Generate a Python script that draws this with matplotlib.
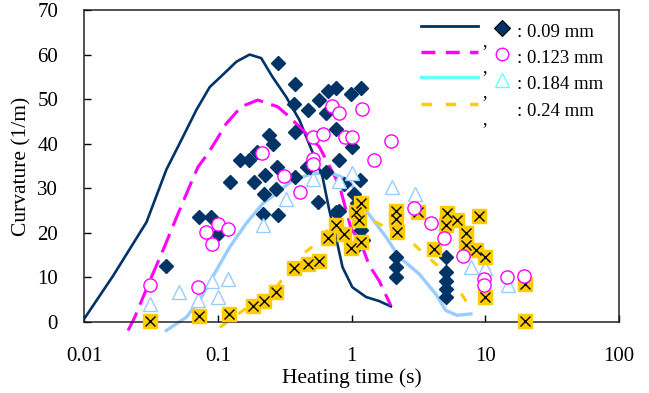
import matplotlib
matplotlib.use('Agg')
import matplotlib.pyplot as plt

plt.rcParams['font.family'] = ['Liberation Serif', 'DejaVu Serif']

# model curves (heating time s, curvature 1/m)
t09 = [0.0101, 0.0164, 0.0291, 0.041, 0.0516, 0.0688, 0.0865, 0.115, 0.137, 0.172, 0.21, 0.255,
       0.323, 0.406, 0.605, 0.68, 0.762, 0.853, 1.01, 1.28, 1.60, 1.96]
k09 = [1.0, 10.4, 22.4, 34.2, 40.1, 47.6, 52.7, 56.2, 58.4, 60.0, 59.2, 55.0,
       50.5, 45.3, 32.5, 25.0, 19.0, 12.3, 7.8, 5.6, 4.7, 3.5]
t123 = [0.0212, 0.0238, 0.0317, 0.0387, 0.0501, 0.0595, 0.0707, 0.0839, 0.097, 0.115, 0.149,
        0.198, 0.279, 0.342, 0.455, 0.572, 0.807, 0.987, 1.18, 1.35, 1.60, 1.96]
k123 = [-1.9, 1.1, 10.1, 16.1, 24.3, 29.6, 34.8, 37.8, 40.8, 44.5, 48.3,
        49.8, 48.3, 46.0, 42.3, 39.3, 30.7, 21.0, 17.5, 12.7, 9.3, 3.7]
t184 = [0.041, 0.058, 0.075, 0.097, 0.122, 0.162, 0.216, 0.272, 0.361, 0.509, 0.719, 0.957,
        1.28, 1.80, 2.26, 3.19, 4.25, 5.05, 6.12, 7.79]
k184 = [-1.9, 1.1, 5.6, 11.6, 16.8, 22.1, 26.6, 28.8, 31.8, 33.3, 33.3, 31.8,
        25.0, 19.1, 14.6, 10.8, 6.3, 2.6, 1.5, 1.8]
t24 = [0.103, 0.137, 0.279, 0.418, 0.525, 0.88, 1.20, 1.43, 2.68, 3.47, 4.37, 6.34, 7.28]
k24 = [-1.2, 1.5, 8.2, 15.0, 17.2, 25.0, 25.0, 22.8, 18.5, 15.3, 12.7, 7.1, 4.4]

# measured points
d_x = [0.279, 0.378, 0.371, 0.473, 0.565, 0.668, 0.766, 0.987, 1.17, 0.641, 0.766, 0.378, 0.242,
       0.257, 1.01, 0.807, 0.169, 0.122, 0.184, 0.226, 0.275, 0.378, 0.461, 0.641, 1.16, 0.219,
       0.273, 0.216, 0.279, 0.556, 0.88, 1.04, 0.807, 1.10, 1.17, 1.21, 0.0714, 0.0889, 0.0997,
       0.041, 2.14, 2.14, 2.14, 5.05, 5.05, 5.05, 5.05, 5.05, 0.76, 1.07, 0.145, 0.49, 0.197]
d_y = [58.0, 53.5, 49.0, 47.5, 49.8, 51.9, 52.4, 51.1, 52.6, 46.8, 43.4, 42.7, 41.9,
       40.0, 39.3, 36.3, 36.4, 31.4, 31.4, 32.9, 34.8, 32.5, 34.8, 33.7, 31.8, 28.8,
       29.9, 24.3, 23.9, 26.9, 31.0, 28.8, 25.0, 26.6, 20.6, 18.3, 23.6, 23.6, 19.8,
       12.5, 14.6, 12.3, 10.1, 14.6, 11.2, 9.1, 7.3, 5.5, 24.7, 16.8, 36.3, 34.8, 38.1]
c_x = [0.214, 0.509, 0.612, 0.711, 0.807, 1.19, 0.894, 1.0, 1.46, 0.509, 0.509, 0.313, 0.41, 1.96,
       0.0807, 0.0997, 0.118, 0.0906, 0.0308, 0.0707, 2.92, 3.90, 4.9, 6.79, 9.75, 9.75, 14.6, 19.4]
c_y = [37.9, 41.4, 42.1, 48.4, 46.8, 47.8, 41.4, 41.5, 36.4, 36.5, 35.5, 32.7, 29.2, 40.7,
       20.3, 21.9, 20.9, 17.4, 8.4, 7.8, 25.5, 22.2, 18.8, 14.9, 9.7, 8.2, 10.0, 10.3]
tr_x = [0.216, 0.0906, 0.118, 0.051, 0.0997, 0.0308, 0.0707, 0.323, 0.516, 0.807, 1.01, 2.0,
        2.98, 7.76, 10.0, 14.7]
tr_y = [21.7, 9.3, 9.7, 6.7, 5.6, 4.1, 5.0, 27.7, 32.0, 31.6, 33.5, 30.3, 28.7, 12.3, 12.0, 8.4]
s_x = [0.0311, 0.0724, 0.121, 0.183, 0.22, 0.269, 0.372, 0.468, 0.565, 0.659, 0.766, 0.871, 0.987,
       1.17, 1.08, 1.14, 1.17, 2.15, 2.15, 2.19, 3.11, 4.13, 5.19, 5.05, 6.17, 7.11, 7.11, 8.45,
       10.0, 9.02, 10.0, 19.9, 19.9]
s_y = [0.2, 1.3, 1.7, 3.5, 4.7, 6.7, 12.1, 13.1, 13.6, 18.9, 21.7, 19.8, 16.7, 26.6, 24.6, 22.8,
       17.9, 25.0, 23.2, 20.2, 24.7, 16.4, 24.5, 21.7, 22.8, 19.9, 17.2, 16.1, 14.5, 23.8, 5.5,
       0.3, 8.6]

labels = [': 0.09 mm', ': 0.123 mm', ': 0.184 mm', ': 0.24 mm']
navy = '#003366'
mag = '#ff00ff'
lblue = '#99ccff'
cyan = '#66ffff'
gold = '#ffcc00'

fig = plt.figure(figsize=(6.49, 3.93), dpi=100)
ax = fig.add_axes([0.1302, 0.1807, 0.8236, 0.7939])

ax.plot(t09, k09, color=navy, lw=1.9, clip_on=False, zorder=2)
ax.plot(t123, k123, color=mag, lw=2.2, dashes=(6.5, 2.8), clip_on=False, zorder=2)
ax.plot(t184, k184, color=lblue, lw=2.4, clip_on=False, zorder=2)
ax.plot(t24, k24, color=gold, lw=2.2, dashes=(3, 4.5), clip_on=False, zorder=2)

ax.plot(d_x, d_y, 'D', ms=7.5, color=navy, mec=navy, clip_on=False, zorder=3)
ax.plot(tr_x, tr_y, '^', ms=9.5, mfc='white', mec=lblue, mew=1.0, clip_on=False, zorder=4)
ax.plot(s_x, s_y, 's', ms=9.5, mfc=gold, mec=gold, clip_on=False, zorder=5)
ax.plot(s_x, s_y, 'x', ms=7, color='black', mew=1.0, clip_on=False, zorder=6)
ax.plot(c_x, c_y, 'o', ms=9.5, mfc='white', mec=mag, mew=1.0, clip_on=False, zorder=7)

ax.set_xscale('log')
ax.set_xlim(0.01, 100)
ax.set_ylim(0, 70)
ax.set_xticks([0.01, 0.1, 1, 10, 100])
ax.set_xticklabels(['0.01', '0.1', '1', '10', '100'])
ax.minorticks_off()
ax.set_yticks(range(0, 71, 10))
ax.tick_params(direction='in', length=5, width=1, labelsize=15, colors='black')
ax.tick_params(axis='x', pad=18)
ax.tick_params(axis='y', pad=19)
for sp in ax.spines.values():
    sp.set_linewidth(1.1)
    sp.set_color('#222222')

ax.set_xlabel('Heating time (s)', fontsize=15.5, labelpad=2)
ax.set_ylabel('Curvature (1/m)', fontsize=15.5, labelpad=4)

# legend drawn by hand (line , marker : label)
tr = ax.transAxes
row_y = [0.949, 0.866, 0.784, 0.698]
styles = [dict(color=navy, lw=2), dict(color=mag, lw=2.5, dashes=(4, 3)),
          dict(color=cyan, lw=2.5), dict(color=gold, lw=2.5, dashes=(3, 4))]
mk = [dict(marker='D', ms=8, mfc=navy, mec='black', mew=0.8),
      dict(marker='o', ms=9, mfc='white', mec=mag, mew=1.0),
      dict(marker='^', ms=10, mfc='white', mec=cyan, mew=1.0), None]
for i in range(4):
    ax.plot([0.6295, 0.736], [row_y[i]] * 2, transform=tr, clip_on=False, **styles[i])
    ax.text(0.745, row_y[i] - 0.05, ',', transform=tr, fontsize=13, ha='left', va='center')
    if mk[i] is not None:
        ax.plot([0.7805], [row_y[i] - 0.008], transform=tr, ls='none', clip_on=False, **mk[i])
    ax.text(0.81, row_y[i] - 0.022, labels[i], transform=tr, fontsize=13.5,
            ha='left', va='center')

fig.savefig('out.png', dpi=100)
